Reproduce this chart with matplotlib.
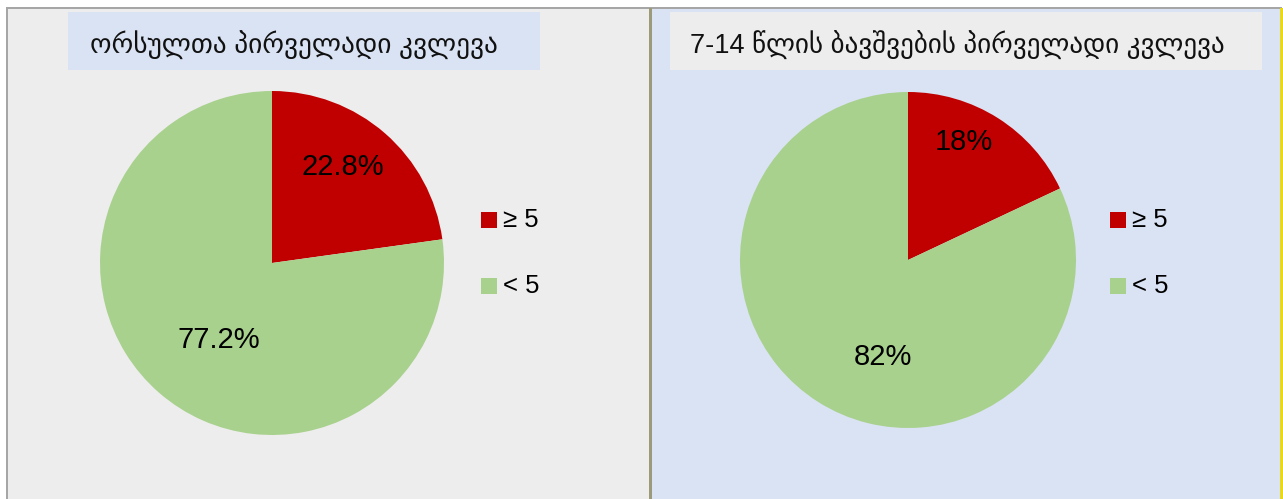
import matplotlib.pyplot as plt
from matplotlib.patches import Rectangle

plt.rcParams['font.family'] = ['Liberation Sans', 'DejaVu Sans']

titles = ['ორსულთა პირველადი კვლევა', '7-14 წლის ბავშვების პირველადი კვლევა']
categories = ['≥ 5', '< 5']
values_left = [22.8, 77.2]
values_right = [18, 82]
colors = ['#C00000', '#A9D18E']

W, H = 1283, 499
fig = plt.figure(figsize=(W / 100, H / 100), dpi=100)
fig.patch.set_facecolor('white')


def box(x0, y0, x1, y1, color):
    # rectangle given in pixel coords (origin top-left)
    fig.add_artist(Rectangle((x0 / W, 1 - y1 / H), (x1 - x0) / W, (y1 - y0) / H,
                             transform=fig.transFigure, facecolor=color,
                             edgecolor='none', zorder=0))


# panel backgrounds and frame lines
box(7, 8, 650, 499, '#EDEDED')
box(651, 8, 1281, 499, '#DAE3F3')
box(6, 7, 1282, 9, '#A6A6A6')
box(6, 7, 8, 499, '#A6A6A6')
box(649, 8, 652, 499, '#9C9A78')
box(1280, 8, 1283, 499, '#E8D820')

# title boxes
box(68, 12, 540, 70, '#DAE3F3')
box(670, 12, 1262, 70, '#EDEDED')

panels = [
    dict(vals=values_left, title=titles[0], tx=90, fs=19.7, cx=272, cy=263, r=172,
         lab_pos=[(0.41, 0.56), (-0.31, -0.45)], leg_x=481),
    dict(vals=values_right, title=titles[1], tx=690, fs=19.5, cx=908, cy=260, r=168,
         lab_pos=[(0.33, 0.70), (-0.15, -0.58)], leg_x=1110),
]

for p in panels:
    fig.text(p['tx'] / W, 1 - 45 / H, p['title'], fontsize=p['fs'],
             ha='left', va='center', color='#111111')

    r = p['r']
    ax = fig.add_axes([(p['cx'] - r) / W, 1 - (p['cy'] + r) / H, 2 * r / W, 2 * r / H])
    ax.pie(p['vals'], colors=colors, startangle=90, counterclock=False, radius=1,
           wedgeprops=dict(linewidth=0))
    ax.set_xlim(-1, 1)
    ax.set_ylim(-1, 1)
    ax.set_aspect('equal')
    ax.axis('off')
    for v, (lx, ly) in zip(p['vals'], p['lab_pos']):
        ax.text(lx, ly, f'{v:g}%', ha='center', va='center', fontsize=21, color='black')

    for i, cat in enumerate(categories):
        yc = 220 + i * 66
        box(p['leg_x'], yc - 8, p['leg_x'] + 16, yc + 8, colors[i])
        fig.text((p['leg_x'] + 22) / W, 1 - yc / H, cat, fontsize=18.5,
                 ha='left', va='center', color='black')

fig.savefig('out.png', dpi=100)
